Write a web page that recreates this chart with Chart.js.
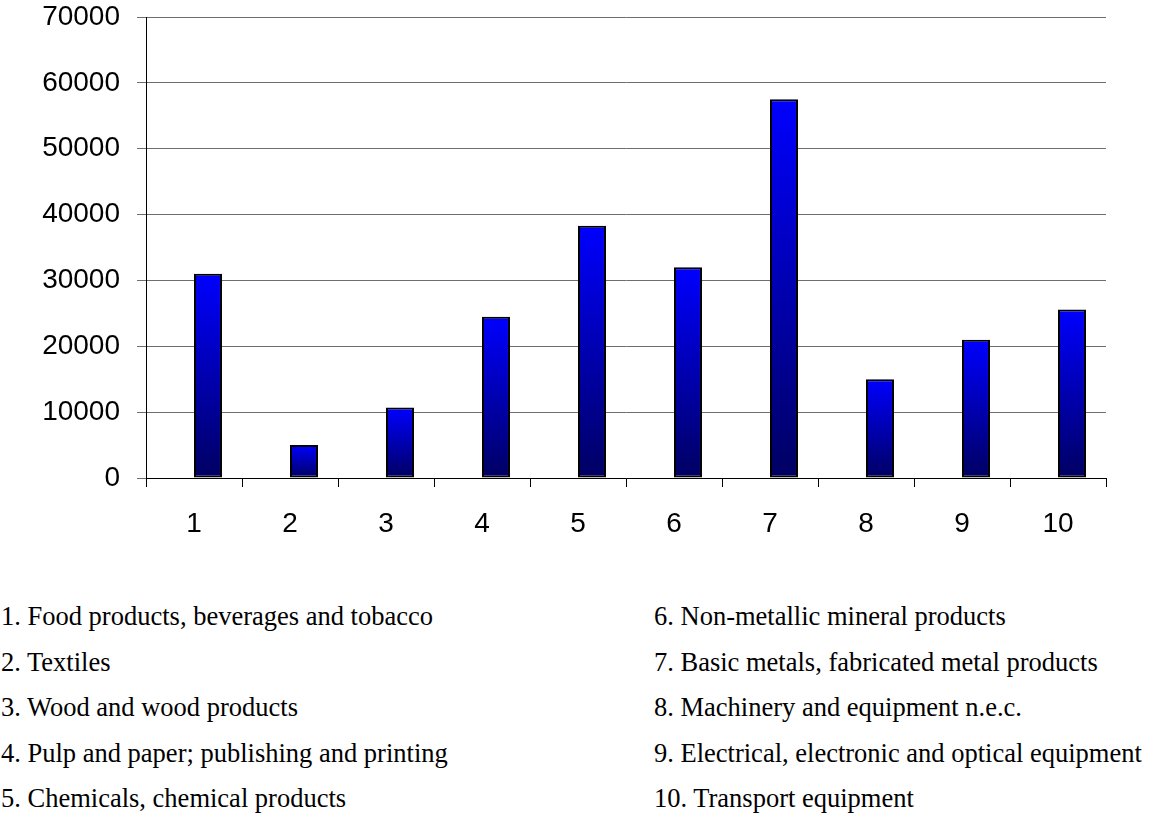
<!DOCTYPE html>
<html>
<head>
<meta charset="utf-8">
<script src="https://cdn.jsdelivr.net/npm/chart.js@4/dist/chart.umd.min.js"></script>
<style>
  html, body { margin: 0; padding: 0; background: #fff; }
  body { width: 1149px; height: 816px; position: relative; overflow: hidden; }
  #chartBox { position: absolute; left: 0; top: 0; width: 1149px; height: 545px; }
  .names {
    position: absolute; top: 594px;
    font-family: "Liberation Serif", "Times New Roman", serif;
    font-size: 26.5px; line-height: 45.6px; color: #000; white-space: nowrap;
  }
  #namesLeft { left: 1px; }
  #namesRight { left: 654px; }
</style>
</head>
<body>
<div id="chartBox"><canvas id="industryChart"></canvas></div>
<div class="names" id="namesLeft"></div>
<div class="names" id="namesRight"></div>
<script>
"use strict";

// Branch numbers on the x axis and the branch names listed under the chart
const branchNumbers = ["1", "2", "3", "4", "5", "6", "7", "8", "9", "10"];
const branchNames = [
  "Food products, beverages and tobacco",
  "Textiles",
  "Wood and wood products",
  "Pulp and paper; publishing and printing",
  "Chemicals, chemical products",
  "Non-metallic mineral products",
  "Basic metals, fabricated metal products",
  "Machinery and equipment n.e.c.",
  "Electrical, electronic and optical equipment",
  "Transport equipment",
];
const branchValues = [31000, 5000, 10700, 24500, 38300, 32000, 57500, 15000, 21000, 25600];
// empty first series keeps the bars right of the category centre
const emptySeries = branchValues.map(() => null);
const yTicks = [0, 10000, 20000, 30000, 40000, 50000, 60000, 70000];

// list of names, 1-5 on the left, 6-10 on the right
branchNames.forEach((name, i) => {
  const row = document.createElement("div");
  row.textContent = `${branchNumbers[i]}. ${name}`;
  document.getElementById(i < 5 ? "namesLeft" : "namesRight").appendChild(row);
});

// each bar gets its own vertical fade, bright blue at the top to navy at the base
function barFill(ctx) {
  const chart = ctx.chart;
  const y = chart.scales.y;
  if (ctx.raw == null || !y) return "#0000ff";
  const top = y.getPixelForValue(ctx.raw);
  const base = y.getPixelForValue(0);
  if (!Number.isFinite(top) || !Number.isFinite(base) || top === base) return "#0000ff";
  const g = chart.ctx.createLinearGradient(0, top, 0, base);
  g.addColorStop(0, "#0000ff");
  g.addColorStop(1, "#000062");
  return g;
}

const axisFont = { family: "'Liberation Sans', Arial, sans-serif", size: 28 };

const data = {
  labels: branchNumbers,
  datasets: [
    { label: "", data: emptySeries },
    {
      label: "Value",
      data: branchValues,
      backgroundColor: barFill,
      borderColor: "#000",
      borderWidth: 2,
      borderSkipped: false,
    },
  ],
};

const config = {
  type: "bar",
  data: data,
  options: {
    responsive: true,
    maintainAspectRatio: false,
    animation: false,
    categoryPercentage: 0.583,
    barPercentage: 1,
    layout: {
      padding: { top: 17, right: 43, bottom: 0, left: 0 },
    },
    plugins: {
      legend: { display: false },
      tooltip: { enabled: false },
    },
    scales: {
      x: {
        afterFit: (scale) => { scale.height = 67; },
        grid: {
          display: true,
          drawOnChartArea: false,
          drawTicks: true,
          tickLength: 9,
          offset: true,
          color: "#000",
        },
        border: { color: "#000", width: 1 },
        ticks: { color: "#000", font: axisFont, padding: 20, maxRotation: 0 },
      },
      y: {
        min: 0,
        max: yTicks[yTicks.length - 1],
        afterFit: (scale) => {
          scale.width = 146;
          scale.paddingTop = 0;
          scale.paddingBottom = 0;
        },
        afterBuildTicks: (scale) => { scale.ticks = yTicks.map((v) => ({ value: v })); },
        grid: { color: "#6e6e6e", lineWidth: 1, tickLength: 9 },
        border: { color: "#000", width: 1 },
        ticks: {
          color: "#000",
          font: axisFont,
          padding: 17,
          callback: (value) => String(value),
        },
      },
    },
  },
};

const industryChart = new Chart(document.getElementById("industryChart"), config);
</script>
</body>
</html>
